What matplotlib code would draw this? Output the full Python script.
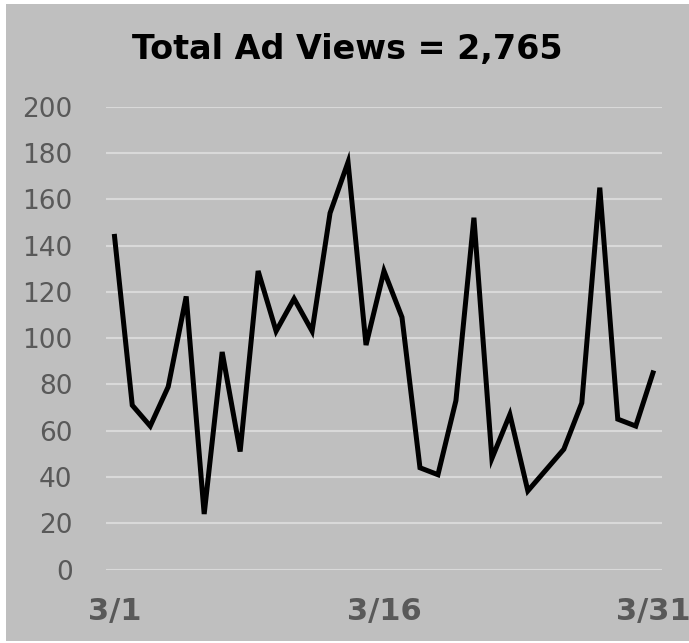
import matplotlib
matplotlib.use("Agg")
import matplotlib.pyplot as plt
from matplotlib.patches import Rectangle

days = list(range(1, 32))
views = [145, 71, 62, 79, 118, 24, 94, 51, 129, 103,
         117, 103, 154, 176, 97, 129, 109, 44, 41, 73,
         152, 48, 67, 34, 43, 52, 72, 165, 65, 62, 86]
tick_days = [1, 16, 31]
tick_labels = ["3/1", "3/16", "3/31"]
y_ticks = list(range(0, 201, 20))
title = "Total Ad Views = 2,765"

W, H = 689, 643
fig = plt.figure(figsize=(W / 100, H / 100), dpi=100, facecolor="white")
bg = "#bfbfbf"
fig.patches.append(Rectangle((6 / W, 2 / H), 1 - 6 / W, 1 - 6 / H,
                             transform=fig.transFigure, facecolor=bg,
                             edgecolor="none", zorder=-10))

left, right = 106, 662
top, bottom = 106.6, 569.6
ax = fig.add_axes([left / W, 1 - bottom / H, (right - left) / W, (bottom - top) / H])
ax.set_zorder(5)
ax.set_facecolor("none")
ax.plot(days, views, color="black", lw=3.6, solid_joinstyle="miter",
        solid_capstyle="butt", zorder=3)
ax.set_xlim(0.54, 31.46)
ax.set_ylim(0, 200)
ax.set_yticks(y_ticks)
ax.set_xticks(tick_days)
ax.set_xticklabels(tick_labels, fontsize=22, fontweight="bold", color="#595959")
ax.tick_params(axis="y", length=0, pad=24, labelsize=19, labelcolor="#595959")
ax.tick_params(axis="x", length=0, pad=20)
ax.grid(axis="y", color="#d9d9d9", lw=1.5, zorder=1)
ax.grid(axis="x", visible=False)
for s in ax.spines.values():
    s.set_visible(False)

fig.text(347.5 / W, 1 - 50 / H, title, ha="center", va="center",
         fontsize=24, fontweight="bold", color="black")

fig.savefig("out.png", dpi=100, facecolor="white")
